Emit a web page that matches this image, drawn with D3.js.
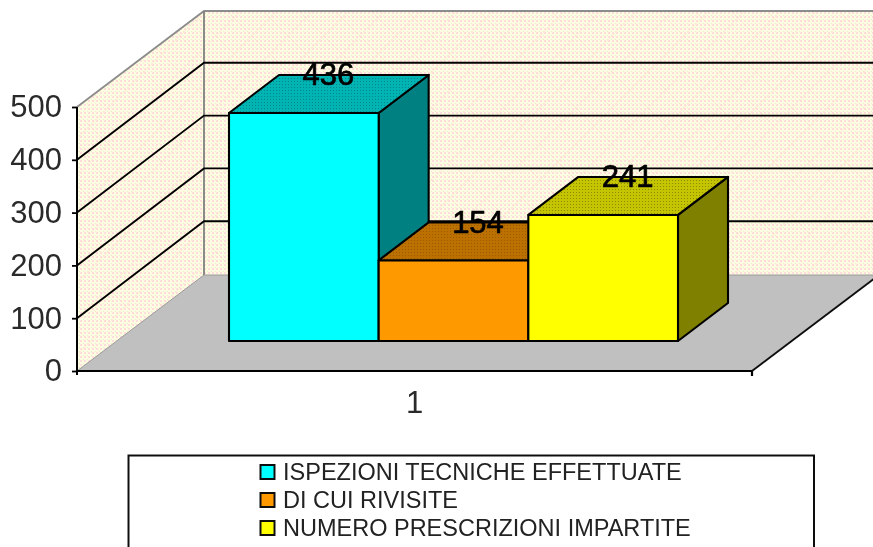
<!DOCTYPE html>
<html><head><meta charset="utf-8">
<script src="https://cdn.jsdelivr.net/npm/d3@7"></script>
<style>html,body{margin:0;padding:0;background:#fff;overflow:hidden}svg{display:block}text{font-family:"Liberation Sans",Arial,sans-serif}</style>
</head><body><svg id="c" width="873" height="547"></svg>
<script>
const categories = ["1"];
const seriesNames = ["ISPEZIONI TECNICHE EFFETTUATE","DI CUI RIVISITE","NUMERO PRESCRIZIONI IMPARTITE"];
const seriesValues = [436,154,241];
const frontColors = ["#00FFFF","#FF9900","#FFFF00"];
const sideColors = ["#008080","#995C00","#808000"];
const topBase = ["#00B4B4","#BC7000","#C4C400"];
const topDot = ["#008888","#995C00","#8C8C00"];
const yTicks = [0,100,200,300,400,500];

const svg = d3.select("#c");
const defs = svg.append("defs");
defs.append("filter").attr("id","soft").attr("x","-5%").attr("y","-5%").attr("width","110%").attr("height","110%")
  .append("feGaussianBlur").attr("stdDeviation",0.5);

const wallP = defs.append("pattern").attr("id","wall").attr("patternUnits","userSpaceOnUse").attr("width",4).attr("height",4);
wallP.append("rect").attr("width",4).attr("height",4).attr("fill","#FFFDE0");
wallP.append("rect").attr("width",2).attr("height",2).attr("fill","#FFDCE0");
wallP.append("rect").attr("x",3).attr("y",3).attr("width",1).attr("height",1).attr("fill","#E8ECD8");
const hatch = defs.append("pattern").attr("id","hatch").attr("patternUnits","userSpaceOnUse").attr("width",36).attr("height",36);
hatch.append("path").attr("d","M0 0L36 36M36 0L0 36").attr("stroke","#FFC8C0").attr("stroke-width",1).attr("fill","none").attr("opacity",0.3);
topBase.forEach((c,i)=>{
  const p = defs.append("pattern").attr("id","top"+i).attr("patternUnits","userSpaceOnUse").attr("width",3).attr("height",3);
  p.append("rect").attr("width",3).attr("height",3).attr("fill",c);
  p.append("rect").attr("width",1).attr("height",1).attr("fill",topDot[i]);
});

// plot geometry
const y = d3.scaleLinear().domain([0,500]).range([371,107]);
const barHeight = d3.scaleLinear().domain([0,500]).range([0,261.5]);
const xFloor = d3.scaleBand().domain(categories).range([77,752]);
const depth = {dx:127, dy:-96};
const bar = {dx:50, dy:-38, base:341};
const x = d3.scaleBand().domain(seriesNames).range([229,678]);
const g = svg.append("g").attr("filter","url(#soft)");
const poly = pts => d3.line()(pts)+"Z";

const x0 = xFloor.range()[0], x1 = xFloor.range()[1];
const back = v => y(v)+depth.dy;
const wallPath = poly([[x0,y(0)],[x0,y(500)],[x0+depth.dx,back(500)],[x1+depth.dx,back(500)],[x1+depth.dx,back(0)],[x0+depth.dx,back(0)]]);
g.append("path").attr("d",wallPath).attr("fill","url(#wall)");
g.append("path").attr("d",wallPath).attr("fill","url(#hatch)");
// floor
g.append("path").attr("d",poly([[x0,y(0)],[x1,y(0)],[x1+depth.dx,back(0)],[x0+depth.dx,back(0)]])).attr("fill","#C0C0C0");
// wall frame
g.append("path").attr("d",d3.line()([[x0,y(500)],[x0+depth.dx,back(500)],[x1+depth.dx,back(500)]])).attr("fill","none").attr("stroke","#8c8c8c").attr("stroke-width",1.8);
g.append("line").attr("x1",x0+depth.dx).attr("x2",x0+depth.dx).attr("y1",back(500)).attr("y2",back(0)).attr("stroke","#808080").attr("stroke-width",1.8);
g.append("line").attr("x1",x0).attr("y1",y(0)).attr("x2",x0+depth.dx).attr("y2",back(0)).attr("stroke","#999").attr("stroke-width",1);
g.append("line").attr("x1",x0+depth.dx).attr("x2",x1+depth.dx).attr("y1",back(0)).attr("y2",back(0)).attr("stroke","#999").attr("stroke-width",1.2);
// gridlines
yTicks.filter(t=>t>0&&t<500).forEach(t=>{
  g.append("path").attr("d",d3.line()([[x0,y(t)],[x0+depth.dx,back(t)-1],[x1+depth.dx,back(t)-1]])).attr("fill","none").attr("stroke","#000").attr("stroke-width",1.9);
});
// bars
seriesNames.forEach((name,i)=>{
  const l = x(name), r = l+x.bandwidth(), t = bar.base-barHeight(seriesValues[i]);
  const s = g.append("g").attr("stroke","#000").attr("stroke-width",2.1).attr("stroke-linejoin","round");
  s.append("path").attr("d",poly([[r,bar.base],[r,t],[r+bar.dx,t+bar.dy],[r+bar.dx,bar.base+bar.dy]])).attr("fill",sideColors[i]);
  s.append("path").attr("d",poly([[l,t],[r,t],[r+bar.dx,t+bar.dy],[l+bar.dx,t+bar.dy]])).attr("fill","url(#top"+i+")");
  s.append("path").attr("d",poly([[l,bar.base],[l,t],[r,t],[r,bar.base]])).attr("fill",frontColors[i]);
});
// labels on bars
seriesNames.forEach((name,i)=>{
  const cx = x(name)+x.bandwidth()/2+bar.dx/2, t = bar.base-barHeight(seriesValues[i]);
  g.append("text").attr("x",cx-0.5).attr("y",t+bar.dy/2-8.5).attr("text-anchor","middle")
   .attr("font-size",31).attr("fill","#000").attr("stroke","#000").attr("stroke-width",0.7).text(seriesValues[i]);
});
// axes
const yAxis = g.append("g").attr("transform",`translate(${x0},0)`)
  .call(d3.axisLeft(y).tickValues(yTicks).tickSize(5).tickPadding(10));
yAxis.selectAll("text").attr("font-size",31).attr("fill","#2a2a2a").attr("font-family",'"Liberation Sans",Arial,sans-serif');
yAxis.selectAll("line").attr("stroke","#000").attr("stroke-width",1.8);
yAxis.select(".domain").attr("stroke","#000").attr("stroke-width",2).attr("d",`M0,${y(500)}V${y(0)+4}`);
const xAxis = g.append("g").attr("transform",`translate(0,${y(0)})`)
  .call(d3.axisBottom(xFloor).tickSize(0).tickPadding(20));
xAxis.select(".domain").attr("stroke","#000").attr("stroke-width",2.2).attr("d",`M${x0},0H${x1}V5`);
xAxis.selectAll("text").attr("font-size",31).attr("fill","#2a2a2a").attr("font-family",'"Liberation Sans",Arial,sans-serif');
g.append("line").attr("x1",x1).attr("y1",y(0)).attr("x2",x1+depth.dx).attr("y2",back(0)).attr("stroke","#111").attr("stroke-width",1.9);
// legend
g.append("rect").attr("x",128.5).attr("y",455.5).attr("width",685.5).attr("height",110).attr("fill","#fff").attr("stroke","#111").attr("stroke-width",2);
const legendY = d3.scalePoint().domain(seriesNames).range([480,536]);
seriesNames.forEach((name,i)=>{
  g.append("rect").attr("x",260.5).attr("y",legendY(name)-15).attr("width",14).attr("height",14).attr("fill",frontColors[i]).attr("stroke","#111").attr("stroke-width",2);
  g.append("text").attr("x",283).attr("y",legendY(name)).attr("font-size",23.5).attr("fill","#222").text(name);
});
</script></body></html>
